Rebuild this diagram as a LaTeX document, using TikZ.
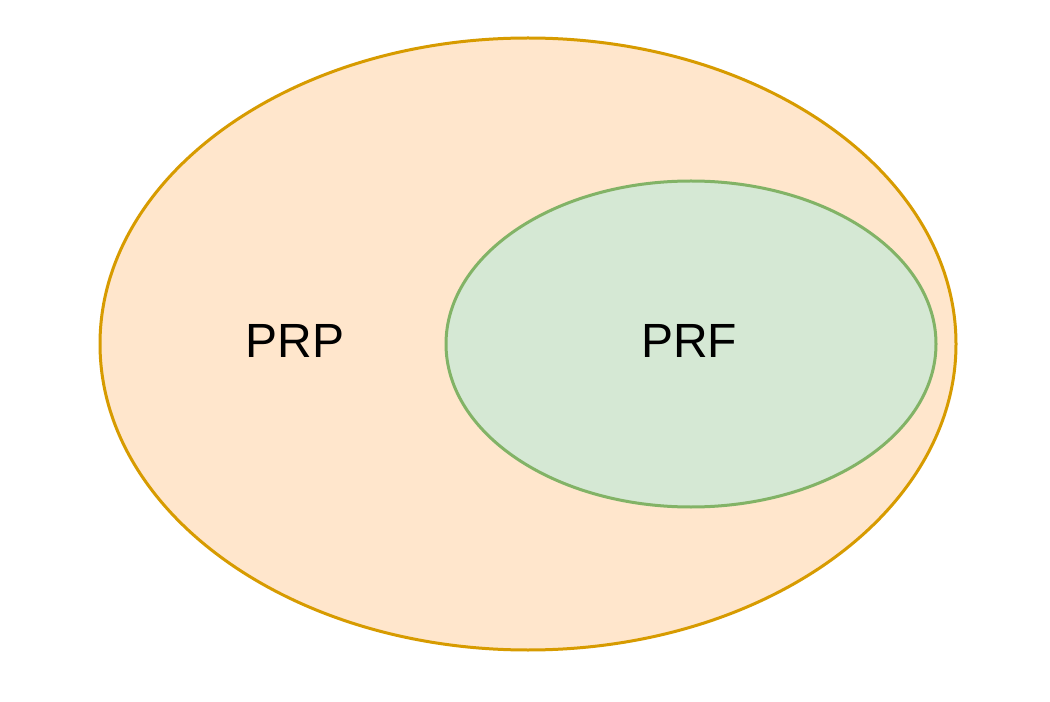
\documentclass[tikz,border=0pt]{standalone}
\usepackage{fontspec}
\setmainfont{Liberation Sans}
\usetikzlibrary{shapes.geometric}
\definecolor{orfill}{HTML}{FFE6CC}
\definecolor{ordraw}{HTML}{D79B00}
\definecolor{grfill}{HTML}{D5E8D4}
\definecolor{grdraw}{HTML}{82B366}
\tikzset{
  setshape/.style={ellipse, inner sep=0pt, line width=2.25pt},
  label36/.style={font=\fontsize{36}{43}\selectfont, inner sep=0pt}
}
\begin{document}
\begin{tikzpicture}[x=0.75pt,y=-0.75pt]
\useasboundingbox[fill=white] (0,0) rectangle (1050,702);
\node[setshape, draw=ordraw, fill=orfill, minimum width=856*0.75pt, minimum height=612*0.75pt] (prp) at (528,344) {};
\node[setshape, draw=grdraw, fill=grfill, minimum width=490*0.75pt, minimum height=326*0.75pt] (prf) at (691,344) {};
\node[label36] (prptext) at (295,341) {PRP};
\node[label36] (prftext) at (689,341) {PRF};
\end{tikzpicture}
\end{document}
